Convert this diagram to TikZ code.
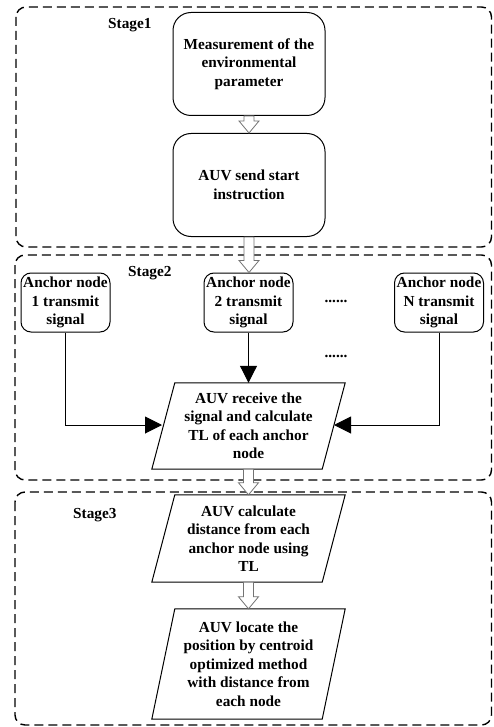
\documentclass[tikz,border=0pt]{standalone}
\usepackage{fontspec}
\setmainfont{Liberation Serif}
\usetikzlibrary{arrows.meta,calc}
\begin{document}
\begin{tikzpicture}[x=1pt,y=-1pt,
  txt/.style={font=\fontsize{15.3}{18.5}\selectfont\bfseries, align=center, inner sep=0pt},
  stagebox/.style={draw, dash pattern=on 9pt off 5pt, line width=1.4pt, rounded corners=10pt},
  rbox/.style={txt, draw, line width=1pt, rounded corners=18pt, minimum width=152pt, minimum height=103pt},
  abox/.style={txt, draw, line width=1pt, rounded corners=10pt, minimum width=89pt, minimum height=59pt},
  pbox/.style={txt, minimum width=170pt},
  para/.style={draw, line width=1pt},
  hollow/.style={draw=gray!90!black, fill=white, line width=0.8pt, line join=miter},
  link/.style={line width=1pt, -{Triangle[length=17pt,width=17pt]}},
  stlabel/.style={font=\fontsize{15.3}{18.5}\selectfont\bfseries, anchor=west, inner sep=0pt}
]
\useasboundingbox (0,0) rectangle (493,727);

% stage frames
\draw[stagebox] (16,7) rectangle (491.5,247);
\draw[stagebox] (15,255) rectangle (491.5,480);
\draw[stagebox] (15,492) rectangle (491.5,725);

\node[stlabel] (s1) at (108,25) {Stage1};
\node[stlabel] (s2) at (128,273) {Stage2};
\node[stlabel] (s3) at (73,515) {Stage3};

% stage 1
\node[rbox] (b1) at (249,64) {Measurement of the\\environmental\\parameter};
\node[rbox] (b2) at (249,185) {AUV send start\\instruction};

% stage 2
\node[abox] (a1) at (65.5,302.5) {Anchor node\\1 transmit\\signal};
\node[abox] (a2) at (248.5,302.5) {Anchor node\\2 transmit\\signal};
\node[abox] (an) at (439,302.5) {Anchor node\\N transmit\\signal};
\node[txt] (d1) at (336,301) {......};
\node[txt] (d2) at (336,356) {......};

\node[pbox, minimum height=86pt] (p1) at (248.5,426) {AUV receive the\\signal and calculate\\TL of each anchor\\node};
% stage 3
\node[pbox, minimum height=87pt] (p2) at (248.5,538.5) {AUV calculate\\distance from each\\anchor node using\\TL};
\node[pbox, minimum height=110pt] (p3) at (248.5,664) {AUV locate the\\position by centroid\\optimized method\\with distance from\\each node};

% parallelogram outlines
\foreach \p/\s in {p1/11.5,p2/11.5,p3/11.5}{
  \draw[para] ([xshift=\s pt]\p.north west) -- ([xshift=\s pt]\p.north east)
    -- ([xshift=-\s pt]\p.south east) -- ([xshift=-\s pt]\p.south west) -- cycle;
}

% hollow arrows
\newcommand\harrow[2]{%
  \draw[hollow] let \p1=(#1.south), \p2=(#2.north) in
    (\x1-5pt,\y1) -- (\x1-5pt,\y2+12pt) -- (\x1-10pt,\y2+12pt) -- (\x1,\y2)
    -- (\x1+10pt,\y2+12pt) -- (\x1+5pt,\y2+12pt) -- (\x1+5pt,\y1) -- cycle;}
\harrow{b1}{b2}
\harrow{b2}{a2}
\harrow{p1}{p2}
\harrow{p2}{p3}

% signal arrows
\coordinate (l1) at (162,425);
\coordinate (r1) at (334,425);
\draw[link] (a1.south) |- (l1);
\draw[link] (an.south) |- (r1);
\draw[link] (a2.south) -- (p1.north);
\end{tikzpicture}
\end{document}
